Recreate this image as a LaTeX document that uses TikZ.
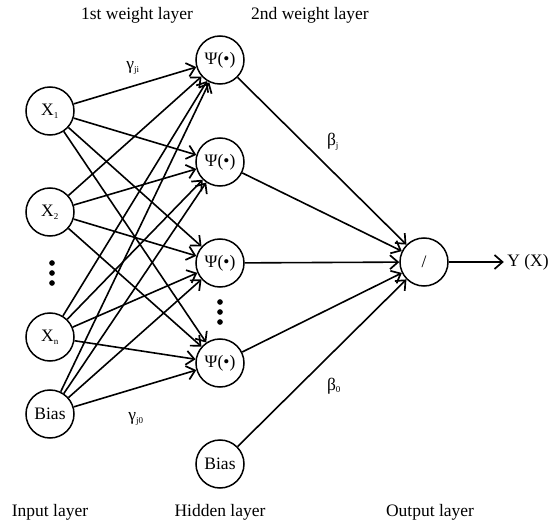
\documentclass[tikz,border=0pt]{standalone}
\usepackage{fontspec}
\setmainfont{Liberation Serif}
\usetikzlibrary{arrows.meta}
\newcommand\subidx[1]{\textsubscript{\fontsize{9}{10}\selectfont #1}}
\tikzset{
  neuron/.style={draw,circle,line width=1.5pt,minimum size=48pt,inner sep=0pt},
  dot/.style={circle,fill,inner sep=2pt},
  wlabel/.style={inner sep=0pt},
  >={Straight Barb[length=8pt,width=14pt,line width=1.7pt]}
}
\begin{document}
\begin{tikzpicture}[x=1pt,y=-1pt,font=\fontsize{17.5}{20}\selectfont]
      \useasboundingbox (0,0) rectangle (552,524);
      \draw
        (50,111) node[neuron] (x1){X\subidx{1}}
        (50,212) node[neuron] (x2){X\subidx{2}}
        (50,337) node[neuron] (xn){X\subidx{n}}
        (50,414) node[neuron] (xb){Bias}
        (220,60) node[neuron] (h1){Ψ(•)}
        (220,162) node[neuron] (h2){Ψ(•)}
        (220,263) node[neuron] (h3){Ψ(•)}
        (220,363) node[neuron] (h4){Ψ(•)}
        (220,464) node[neuron] (hb){Bias}
        (424,262) node[neuron] (out){/};
      \draw
        (52,263) node[dot] (d1){}
        (52,273) node[dot] (d2){}
        (52,283) node[dot] (d3){}
        (220,302) node[dot] (d4){}
        (220,312) node[dot] (d5){}
        (220,322) node[dot] (d6){};
      \draw
        (137,15) node (w1){1st weight layer}
        (310,15) node (w2){2nd weight layer}
        (50,512) node (l1){Input layer}
        (220,512) node (l2){Hidden layer}
        (430,512) node (l3){Output layer}
        (528,262) node (y){Y (X)}
        (133,68) node[wlabel] (g1){γ\subidx{ji}}
        (136,419) node[wlabel] (g0){γ\subidx{j0}}
        (333,142) node[wlabel] (b1){β\subidx{j}}
        (334,386) node[wlabel] (b0){β\subidx{0}};
      \begin{scope}[->,line width=1.6pt]
        \draw (x1) to (h1);
        \draw (x1) to (h2);
        \draw (x1) to (h3);
        \draw (x1) to (h4);
        \draw (x2) to (h1);
        \draw (x2) to (h2);
        \draw (x2) to (h3);
        \draw (x2) to (h4);
        \draw (xn) to (h1);
        \draw (xn) to (h2);
        \draw (xn) to (h3);
        \draw (xn) to (h4);
        \draw (xb) to (h1);
        \draw (xb) to (h2);
        \draw (xb) to (h3);
        \draw (xb) to (h4);
        \draw (h1) to (out);
        \draw (h2) to (out);
        \draw (h3) to (out);
        \draw (h4) to (out);
        \draw (hb) to (out);
        \draw (out) to (y.west);
      \end{scope}
    \end{tikzpicture}
\end{document}
